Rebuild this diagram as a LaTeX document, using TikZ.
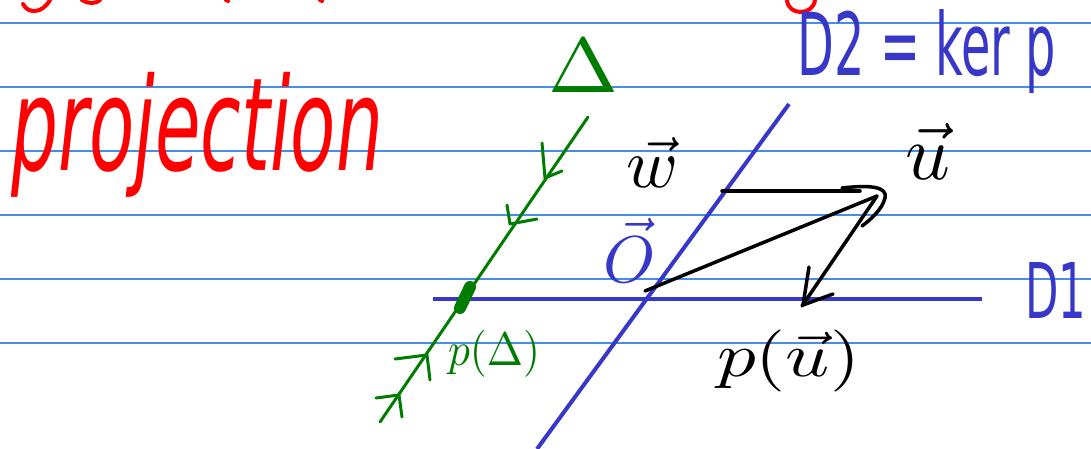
\documentclass[tikz,border=0pt]{standalone}
\usepackage{graphicx}
\usepackage{fontspec}
\setmainfont{DejaVu Sans}
\newcommand{\fitbox}[3]{\resizebox*{#1}{#2}{#3}}
\newcommand{\fith}[2]{\resizebox*{!}{#1}{#2}}
\definecolor{rulec}{RGB}{70,140,235}
\definecolor{inkb}{RGB}{55,55,200}
\definecolor{grn}{RGB}{0,125,0}
\definecolor{rd}{RGB}{255,0,0}
\tikzset{
  ruleline/.style={draw=rulec, line width=2pt},
  blueline/.style={draw=inkb, line width=4pt},
  greenline/.style={draw=grn, line width=3pt, line cap=round, line join=round},
  blackline/.style={draw=black, line width=3.5pt, line cap=round, line join=round},
  redstroke/.style={draw=rd, line width=4pt, line cap=round},
  lbl/.style={inner sep=0pt, outer sep=0pt}
}
\begin{document}
\begin{tikzpicture}[x=1pt,y=-1pt]
\useasboundingbox (0,0) rectangle (1091,449);
\fill[white] (0,0) rectangle (1091,449);
% ruled lines
\coordinate (r1a) at (0,23);    \coordinate (r1b) at (1091,23);
\coordinate (r2a) at (0,87);    \coordinate (r2b) at (1091,87);
\coordinate (r3a) at (0,151);   \coordinate (r3b) at (1091,151);
\coordinate (r4a) at (0,215);   \coordinate (r4b) at (1091,215);
\coordinate (r5a) at (0,279);   \coordinate (r5b) at (1091,279);
\coordinate (r6a) at (0,343);   \coordinate (r6b) at (1091,343);
\draw[ruleline] (r1a) -- (r1b);
\draw[ruleline] (r2a) -- (r2b);
\draw[ruleline] (r3a) -- (r3b);
\draw[ruleline] (r4a) -- (r4b);
\draw[ruleline] (r5a) -- (r5b);
\draw[ruleline] (r6a) -- (r6b);
% red fragments of the row above
\draw[redstroke] (23,4) .. controls (28,14) and (42,14) .. (50,0);
\draw[redstroke] (82,0) .. controls (88,4) and (96,4) .. (100,0);
\draw[redstroke] (226,0) -- (228,1);
\draw[redstroke] (320,0) -- (322,1);
\draw[redstroke] (787,0) .. controls (788,16) and (813,16) .. (815,0);
% title
\node[lbl, text=rd] (proj) at (197.5,134.5) {\fitbox{371pt}{125pt}{\itshape projection}};
% coordinates
\coordinate (d1a) at (433,298.5);
\coordinate (d1b) at (982,298.5);
\coordinate (d2a) at (537,449);
\coordinate (d2b) at (789,104);
\coordinate (dla) at (380,422);
\coordinate (dlb) at (588,117);
\coordinate (O) at (645,291);
\coordinate (ut) at (877,196);
\coordinate (wa) at (722,191);
\coordinate (wb) at (860,191);
\coordinate (pu) at (802,306);
% lines D1, D2
\draw[blueline] (d1a) -- (d1b);
\draw[blueline] (d2a) -- (d2b);
% line Delta
\draw[greenline] (dla) -- (dlb);
\draw[grn, line width=12pt, line cap=round] (460,308) -- (470,287);
% green arrowheads
\draw[greenline] (542,143) -- (545,178) -- (562,171);
\draw[greenline] (507,205) -- (510,224) -- (537,219);
\draw[greenline] (395,359) -- (427,355) -- (430,380);
\draw[greenline] (376,398) -- (399,395) -- (402,417);
% black vectors
\draw[blackline] (O) -- (ut);
\draw[blackline] (wa) -- (wb);
\draw[blackline] (842,188) .. controls (868,185) and (888,186) .. (885,198) .. controls (882,210) and (870,220) .. (862,226);
\draw[blackline] (ut) -- (pu);
\draw[blackline] (809,267) -- (803,305) -- (833,294);
% labels
\node[lbl, text=inkb] (D2) at (927,52) {\fitbox{258pt}{84pt}{D2 = ker p}};
\node[lbl, text=inkb] (D1) at (1055.5,290) {\fitbox{61pt}{56pt}{D1}};
\node[lbl, text=grn] (Delta) at (583.5,65.5) {\fitbox{70pt}{53pt}{$\Delta$}};
\node[lbl, text=black] (w) at (652.5,162) {\fith{50pt}{$\vec{w}$}};
\node[lbl, text=black] (u) at (928,151) {\fith{56pt}{$\vec{u}$}};
\node[lbl, text=inkb] (Ol) at (630,250.5) {\fith{64pt}{$\vec{O}$}};
\node[lbl, text=black] (pul) at (788.5,361) {\fitbox{143pt}{62pt}{$p(\vec{u})$}};
\node[lbl, text=grn] (pd) at (494,353.5) {\fitbox{92pt}{47pt}{$p(\Delta)$}};
\end{tikzpicture}
\end{document}
